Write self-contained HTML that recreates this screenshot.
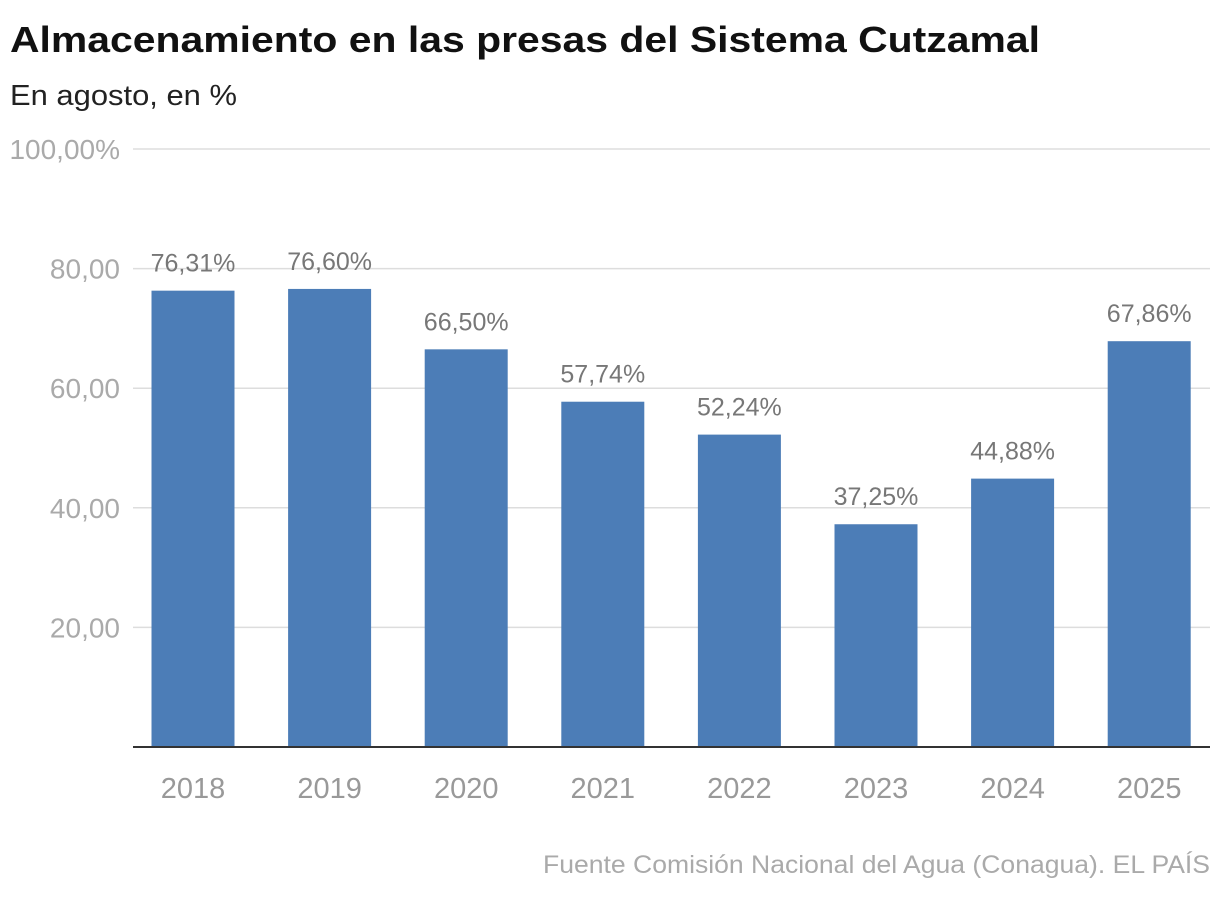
<!DOCTYPE html>
<html><head><meta charset="utf-8"><style>
body{margin:0;background:#fff;width:1220px;height:894px;overflow:hidden;font-family:"Liberation Sans",sans-serif}
</style></head><body>
<svg width="1220" height="894">
<text x="10" y="52" font-size="36" font-weight="bold" fill="#111" textLength="1030" lengthAdjust="spacingAndGlyphs">Almacenamiento en las presas del Sistema Cutzamal</text>
<text x="10" y="105" font-size="29" fill="#222" textLength="227" lengthAdjust="spacingAndGlyphs">En agosto, en %</text>
<g id="grid"></g><g id="bars"></g>
<text x="1210" y="873" font-size="25" fill="#aaa" text-anchor="end" textLength="667" lengthAdjust="spacingAndGlyphs">Fuente Comisión Nacional del Agua (Conagua). EL PAÍS</text>
</svg>
<script>
const categories=["2018","2019","2020","2021","2022","2023","2024","2025"];
const values=[76.31,76.60,66.50,57.74,52.24,37.25,44.88,67.86];
const valueLabels=["76,31%","76,60%","66,50%","57,74%","52,24%","37,25%","44,88%","67,86%"];
const ticks=[20,40,60,80,100];
const tickLabels=["20,00","40,00","60,00","80,00","100,00%"];
const NS="http://www.w3.org/2000/svg";
const y=v=>747-v*5.98;
const x=i=>193+i*136.6;
function mk(t,a,p){const e=document.createElementNS(NS,t);for(const k in a)e.setAttribute(k,a[k]);p.appendChild(e);return e;}
const g=document.getElementById('grid'),b=document.getElementById('bars');
ticks.forEach((t,i)=>{
 const l=mk('line',{x1:133,x2:1210,y1:y(t),y2:y(t),stroke:'#ddd','stroke-width':1.5},g);
 
 
 const tx=mk('text',{x:120,y:y(t)+10,'font-size':28,fill:'#aaa','text-anchor':'end'},g);
 tx.textContent=tickLabels[i];
 
 
});
values.forEach((v,i)=>{
 const r=mk('rect',{x:x(i)-41.5,y:y(v),width:83,height:747-y(v),fill:'#4c7db7'},b);
 
 
 const vl=mk('text',{x:x(i),y:y(v)-19,'font-size':25,fill:'#777','text-anchor':'middle'},b);
 vl.textContent=valueLabels[i];
 
 
 const xl=mk('text',{x:x(i),y:798,'font-size':29,fill:'#999','text-anchor':'middle'},b);
 xl.textContent=categories[i];
 
 
});
const ax=mk('line',{x1:133,x2:1210,y1:747,y2:747,stroke:'#333','stroke-width':2},b);


</script>
</body></html>
